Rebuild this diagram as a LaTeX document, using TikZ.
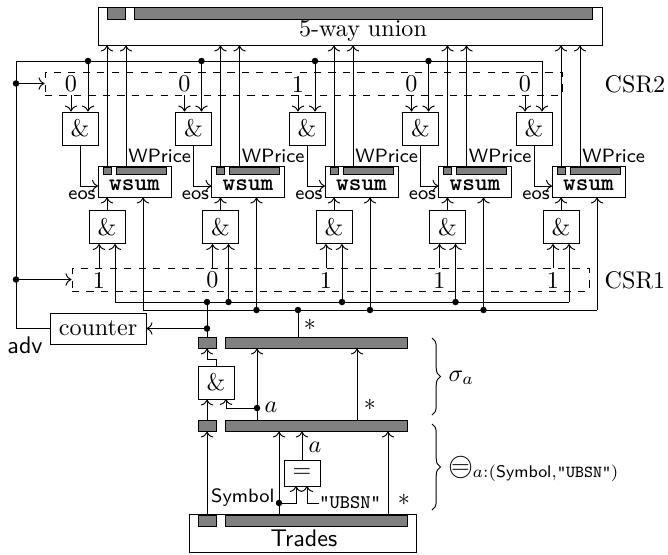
\documentclass[tikz,border=0pt]{standalone}
\usepackage{amsmath,amssymb}
\usetikzlibrary{arrows.meta,positioning,calc,decorations.pathreplacing}
\newcommand\pxu{0.415pt}
\newcommand\circeqop{\mathop{\ooalign{$\bigcirc$\cr\hfil$=$\hfil\cr}}\nolimits}
\tikzset{
planbox/.style={draw, thin, inner sep=0pt},
plangate/.style={draw, thin, inner sep=0pt, minimum width=36*\pxu, minimum height=33*\pxu},
plankey/.style={draw, thin, fill=black!50, inner sep=0pt},
planreg/.style={draw, thin, dashed, inner sep=0pt, minimum height=23*\pxu, minimum width=517*\pxu},
plantag/.style={font=\sffamily\footnotesize, inner sep=0pt},
plandot/.style={circle, fill, inner sep=0pt, minimum size=6.5*\pxu},
planwire/.style={->, thin},
planline/.style={thin},
planbrace/.style={thin, decorate, decoration={brace, amplitude=3.5pt}}
}

\begin{document}
\begin{tikzpicture}[x=\pxu, y=-\pxu, >={To}]
  \useasboundingbox (0,0) rectangle (668,554);
  % union on top
  \node[planbox, minimum width=504*\pxu, minimum height=38*\pxu] (union) at (350,26) {};
  \node[plankey, minimum width=18*\pxu, minimum height=12*\pxu] (uk) at (116,13) {};
  \node[plankey, minimum width=458*\pxu, minimum height=12*\pxu] (ub) at (363,13) {};
  \node (ut) at (363,31) {5-way union};
  % registers and counter
  \node[planreg] (csr2) at (303.5,83.5) {};
  \node[planreg] (csr1) at (330.5,279.5) {};
  \node (csr2l) at (635,84) {CSR2};
  \node (csr1l) at (635,280) {CSR1};
  \node[planbox, minimum width=96*\pxu, minimum height=31*\pxu] (counter) at (98,328.5) {counter};
  \node[font=\sffamily, inner sep=0pt] (advl) at (25,345) {adv};
  % one column per wsum
  \foreach \upv/\lov [count=\i from 0] in {0/1,0/0,1/1,0/1,0/1} {
    \pgfmathsetmacro\dx{113.5*\i}
    \node[plangate] (ug\i) at (80+\dx,128.5) {\&};
    \node[plangate] (lg\i) at (107+\dx,227) {\&};
    \node[planbox, minimum width=73*\pxu, minimum height=31*\pxu] (ws\i) at (134.5+\dx,181.5) {};
    \node[plankey, minimum width=8*\pxu, minimum height=7*\pxu] (wk\i) at (107+\dx,170.5) {};
    \node[plankey, minimum width=50*\pxu, minimum height=7*\pxu] (wb\i) at (141+\dx,170.5) {};
    \node[inner sep=0pt] (wt\i) at (134.5+\dx,185) {\ttfamily\bfseries wsum};
    \node[plantag, anchor=base west] (wp\i) at (128+\dx,162) {WPrice};
    \node[plantag] (eo\i) at (82+\dx,195) {eos};
    \node (cb\i) at (71+\dx,84) {\upv};
    \node (ca\i) at (99+\dx,280) {\lov};
    \coordinate (adv\i) at (88+\dx,61);
    \coordinate (ra\i) at (115+\dx,302);
    \coordinate (rb\i) at (143+\dx,310);
    \coordinate (wo\i) at (126+\dx,167);
    \coordinate (we\i) at (98+\dx,186);
    \draw[planwire] (wk\i.north) -- (wk\i.north |- union.south);
    \draw[planwire] (wo\i) -- (wo\i |- union.south);
    \draw[planwire] (cb\i |- csr2.south) -- (cb\i |- ug\i.north);
    \draw[planwire] (adv\i) -- (adv\i |- ug\i.north);
    \draw[planwire] (ug\i.south) |- (we\i);
    \draw[planwire] (lg\i.north) -- (lg\i.north |- ws\i.south);
    \draw[planwire] (ca\i |- csr1.north) -- (ca\i |- lg\i.south);
    \draw[planwire] (ra\i) -- (ra\i |- lg\i.south);
    \draw[planwire] (rb\i) -- (rb\i |- ws\i.south);
  }
  \foreach \i in {0,...,3} {\node[plandot] (dt\i) at (adv\i) {};}
  \foreach \i in {1,...,3} {
    \node[plandot] (dra\i) at (ra\i) {};
    \node[plandot] (drb\i) at (rb\i) {};
  }
  % selection and filter
  \node[plankey, minimum width=18*\pxu, minimum height=11*\pxu] (sk) at (207,342.5) {};
  \node[plankey, minimum width=182*\pxu, minimum height=11*\pxu] (sb) at (316,342.5) {};
  \node[plangate] (sg) at (216,382.5) {\&};
  \node[plankey, minimum width=18*\pxu, minimum height=11*\pxu] (mk) at (207,425.5) {};
  \node[plankey, minimum width=182*\pxu, minimum height=11*\pxu] (mb) at (316,425.5) {};
  \node[planbox, minimum width=36*\pxu, minimum height=26*\pxu] (eq) at (302,473) {$=$};
  \node[planbox, minimum width=227*\pxu, minimum height=38*\pxu] (trades) at (302.5,533) {};
  \node[plankey, minimum width=18*\pxu, minimum height=11*\pxu] (tk) at (207,520.5) {};
  \node[plankey, minimum width=182*\pxu, minimum height=11*\pxu] (tb) at (316,520.5) {};
  \node[font=\sffamily, anchor=base] (tt) at (304,546) {Trades};
  \node[inner sep=0pt] (la) at (271,407) {$a$};
  \node[inner sep=0pt] (ls1) at (370,405) {$*$};
  \node[inner sep=0pt] (ls0) at (310,325) {$*$};
  \node[inner sep=0pt] (lb) at (315,447) {$a$};
  \node[plantag, anchor=east] (lsym) at (275,498) {Symbol};
  \node[inner sep=0pt, anchor=west, font=\ttfamily\footnotesize] (lubsn) at (319,503) {"UBSN"};
  \node[inner sep=0pt] (ls2) at (404,500) {$*$};
  \draw[planbrace] (432,338) -- (432,415);
  \node[anchor=base west] (sigl) at (440,381) {$\sigma_a$};
  \draw[planbrace] (432,424) -- (432,510);
  \node[anchor=base west] (eql) at (440,473) {$\circeqop_{a:(\textsf{Symbol},\texttt{"UBSN"})}$};
  \coordinate (sa) at (257,408);
  \coordinate (sgi) at (226,399);
  \coordinate (ms) at (357,420);
  \coordinate (tsym) at (279,515);
  \coordinate (symd) at (279,503);
  \coordinate (eqa) at (296,486);
  \coordinate (eqb) at (307,486);
  \coordinate (tstar) at (388,515);
  \coordinate (sbo) at (298,337);
  \draw[planwire] (tk.north) -- (mk.south);
  \draw[planwire] (mk.north) -- (mk.north |- sg.south);
  \draw[planwire] (sg.north) -- ++(0,-6) -| (sk.south);
  \draw[planwire] (sa |- mb.north) -- (sa |- sb.south);
  \draw[planwire] (sa) -| (sgi);
  \draw[planwire] (ms) -- (ms |- sb.south);
  \draw[planwire] (tsym) -- (tsym |- mb.south);
  \draw[planwire] (symd) -| (eqa);
  \draw[planwire] (lubsn.west) -| (eqb);
  \draw[planwire] (eq.north) -- (eq.north |- mb.south);
  \draw[planwire] (tstar) -- (tstar |- mb.south);
  \node[plandot] (dsa) at (sa) {};
  \node[plandot] (dsym) at (symd) {};
  % back up to the columns
  \draw[planline] (sk.north) -- (sk.north |- ra0);
  \draw[planwire] (sk.north |- counter.east) -- (counter.east);
  \draw[planline] (sbo) -- (sbo |- rb0);
  \draw[planline] (ra0) -- (ra4);
  \draw[planline] (rb0) -- (rb4);
  \node[plandot] (dka) at (sk.north |- ra0) {};
  \node[plandot] (dkc) at (sk.north |- counter.east) {};
  \node[plandot] (dbo) at (sbo |- rb0) {};
  \coordinate (tl) at (16,61);
  \draw[planline] (adv4) -- (tl) |- (counter.west);
  \draw[planwire] (tl |- csr2.west) -- (csr2.west);
  \draw[planwire] (tl |- csr1.west) -- (csr1.west);
  \node[plandot] (dl2) at (tl |- csr2.west) {};
  \node[plandot] (dl1) at (tl |- csr1.west) {};
\end{tikzpicture}
\end{document}
